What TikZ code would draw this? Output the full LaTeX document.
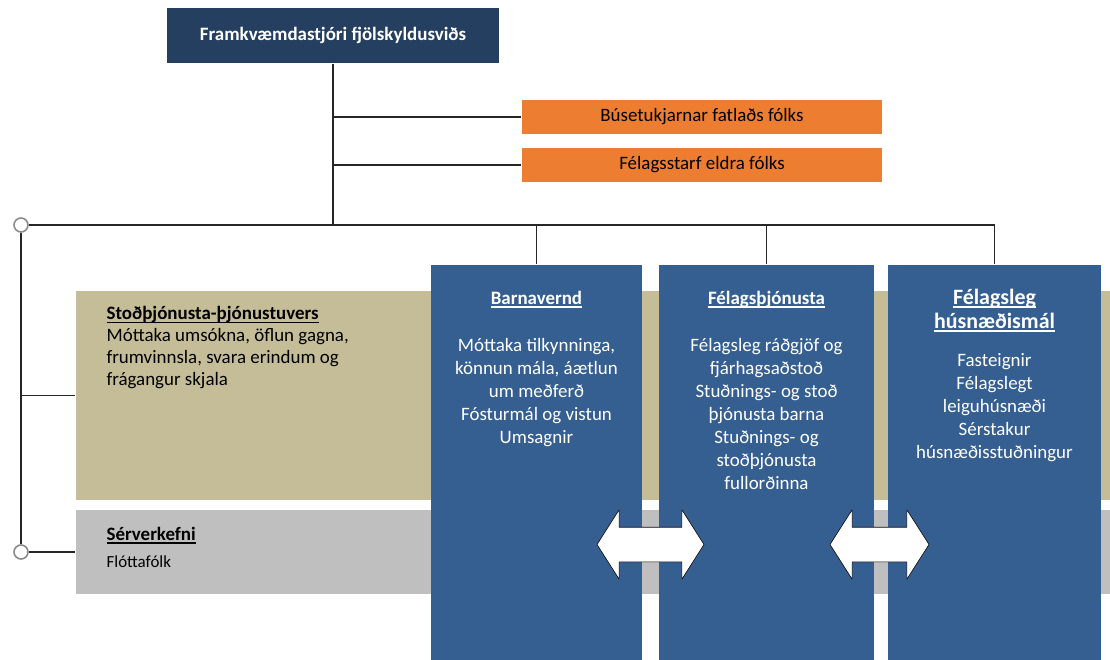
\documentclass[tikz,border=0pt]{standalone}
\usepackage{fontspec}
\setmainfont{Carlito}
\usetikzlibrary{shapes.arrows}
\definecolor{stjoricol}{HTML}{243F60}
\definecolor{deildcol}{HTML}{ED7D31}
\definecolor{svidcol}{HTML}{365F91}
\definecolor{stodcol}{HTML}{C4BD97}
\definecolor{servcol}{HTML}{BFBFBF}
% underline close to the baseline
\newcommand{\undir}[1]{\leavevmode\setbox0\hbox{#1}\rlap{\rule[-3.6bp]{\wd0}{1.2bp}}\box0}
\tikzset{
  stjori/.style={fill=stjoricol,text=white,inner sep=0pt,minimum width=331bp,minimum height=55bp,font=\fontsize{19}{22}\selectfont\bfseries},
  deild/.style={fill=deildcol,text=black,inner sep=0pt,minimum width=360bp,minimum height=34bp,font=\fontsize{19}{22}\selectfont},
  svid/.style={fill=svidcol,inner sep=0pt,minimum width=#1,minimum height=395bp},
  band/.style={fill=#1,inner sep=0pt,minimum width=1034bp},
  hringur/.style={circle,draw=black!45,line width=1.6bp,fill=white,inner sep=0pt,minimum size=14bp},
  tvi/.style={double arrow,draw=black,fill=white,line width=0.6bp,inner xsep=0pt,inner ysep=17bp,
    double arrow head extend=17.5bp,double arrow tip angle=115},
  txt/.style={inner sep=0pt,font=\fontsize{19}{22}\selectfont},
  wtxt/.style={inner sep=0pt,text=white,align=center,font=\fontsize{19}{23}\selectfont},
}
\begin{document}
\begin{tikzpicture}[x=1bp,y=-1bp,>=latex,line join=bevel]
  \useasboundingbox (0,0) rectangle (1110,660);
  \pgfsetlinewidth{1.2bp}
  \pgfsetcolor{black!85}
%%
  % Node: stod
  \node[band=stodcol,minimum height=209bp] (stod) at (593,395.5) {};
  % Node: serv
  \node[band=servcol,minimum height=84bp] (serv) at (593,552) {};
  % Node: fram
  \node[stjori] (fram) at (333,35.5) {Framkvæmdastjóri fjölskyldusviðs};
  % Node: buse
  \node[deild] (buse) at (702,117) {Búsetukjarnar fatlaðs fólks};
  % Node: eldri
  \node[deild] (eldri) at (702,165) {Félagsstarf eldra fólks};
  % Node: barn
  \node[svid=211bp] (barn) at (536.5,462.5) {};
  % Node: fel
  \node[svid=215bp] (fel) at (766.5,462.5) {};
  % Node: hus
  \node[svid=213bp] (hus) at (994.5,462.5) {};
  % Node: cT, cB
  \node[hringur] (cT) at (21,225) {};
  \node[hringur] (cB) at (21,552) {};
  \coordinate (busR) at (994.5,225);
%
  % Edge: fram -> bus
  \draw (fram.south) -- (fram.south |- busR);
  % Edge: bus -> buse, eldri
  \draw (fram.south |- buse.west) -- (buse.west);
  \draw (fram.south |- eldri.west) -- (eldri.west);
  % Edge: cT -> bus
  \draw (cT.east) -- (busR);
  % Edge: bus -> barn, fel, hus
  \draw (barn.north |- busR) -- (barn.north);
  \draw (fel.north |- busR) -- (fel.north);
  \draw (hus.north |- busR) -- (hus.north);
  % Edge: cT -> cB
  \draw (cT.south) -- (cB.north);
  % Edge: left -> stod, serv
  \draw (cT.south |- stod.west) -- (stod.west);
  \draw (cB.east) -- (serv.west);
%
  % Text: stod, serv (base = last line)
  \node[txt,anchor=base west,align=left,text=black] (stodt) at (106,385)
    {\undir{\bfseries Stoðþjónusta-þjónustuvers}\\Móttaka umsókna, öflun gagna,\\frumvinnsla, svara erindum og\\frágangur skjala};
  \node[txt,anchor=base west,text=black] (servt) at (106,540) {\undir{\bfseries Sérverkefni}};
  \node[txt,anchor=base west,text=black,font=\fontsize{17}{20}\selectfont] (servb) at (106,567) {Flóttafólk};
  % Text: barn
  \node[wtxt,anchor=base] (barnh) at (536.5,304) {\undir{\bfseries Barnavernd}};
  \node[wtxt,anchor=base] (barnb) at (536.5,443)
    {Móttaka tilkynninga,\\könnun mála, áætlun\\um meðferð\\Fósturmál og vistun\\Umsagnir};
  % Text: fel
  \node[wtxt,anchor=base] (felh) at (766.5,304) {\undir{\bfseries Félagsþjónusta}};
  \node[wtxt,anchor=base] (felb) at (766.5,489)
    {Félagsleg ráðgjöf og\\fjárhagsaðstoð\\Stuðnings- og stoð\\þjónusta barna\\Stuðnings- og\\stoðþjónusta\\fullorðinna};
  % Text: hus
  \node[wtxt,anchor=base,font=\fontsize{22}{24}\selectfont\bfseries] (hush) at (994.5,328)
    {\undir{Félagsleg}\\\undir{húsnæðismál}};
  \node[wtxt,anchor=base] (husb) at (994.5,458)
    {Fasteignir\\Félagslegt\\leiguhúsnæði\\Sérstakur\\húsnæðisstuðningur};
%
  % Node: orA, orB
  \node[tvi,minimum height=107bp] (orA) at (650.5,544.5) {};
  \node[tvi,minimum height=99bp] (orB) at (879.5,544.5) {};
%
\end{tikzpicture}
\end{document}
